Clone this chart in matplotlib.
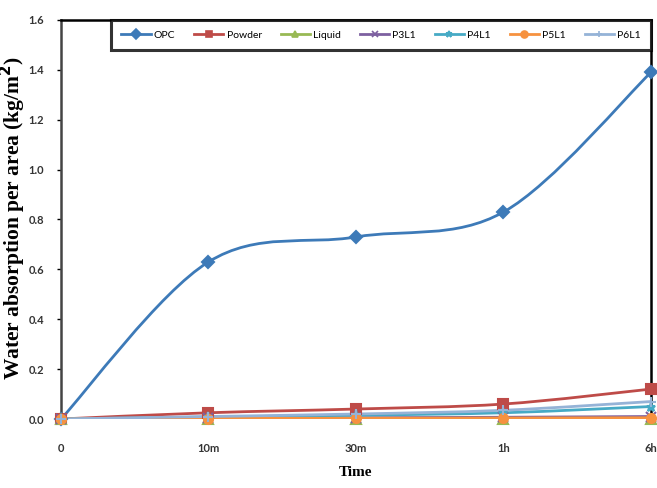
import matplotlib
matplotlib.use("Agg")
import matplotlib.pyplot as plt
from matplotlib.path import Path
from matplotlib.patches import PathPatch
from matplotlib.lines import Line2D

times = ["0", "10m", "30m", "1h", "6h"]
opc = [0.0, 0.63, 0.73, 0.83, 1.39]
powder = [0.0, 0.025, 0.04, 0.06, 0.12]
liquid = [0.0, 0.0, 0.0, 0.0, 0.0]
p3l1 = [0.0, 0.003, 0.005, 0.007, 0.01]
p4l1 = [0.0, 0.008, 0.015, 0.025, 0.05]
p5l1 = [0.0, 0.002, 0.003, 0.004, 0.005]
p6l1 = [0.0, 0.01, 0.02, 0.035, 0.07]

series = [
    ("OPC", opc, "#3D7AB8", "D"),
    ("Powder", powder, "#BE4B48", "s"),
    ("Liquid", liquid, "#98B954", "^"),
    ("P3L1", p3l1, "#7D60A0", "x"),
    ("P4L1", p4l1, "#46AAC5", "*"),
    ("P5L1", p5l1, "#F69240", "o"),
    ("P6L1", p6l1, "#95B3D7", "+"),
]


def smooth_path(xs, ys):
    # Catmull-Rom style bezier through the points (like Excel smoothing)
    pts = list(zip(xs, ys))
    n = len(pts)
    verts = [pts[0]]
    codes = [Path.MOVETO]
    for i in range(n - 1):
        p0 = pts[max(i - 1, 0)]
        p1 = pts[i]
        p2 = pts[i + 1]
        p3 = pts[min(i + 2, n - 1)]
        c1 = (p1[0] + (p2[0] - p0[0]) / 6, p1[1] + (p2[1] - p0[1]) / 6)
        c2 = (p2[0] - (p3[0] - p1[0]) / 6, p2[1] - (p3[1] - p1[1]) / 6)
        verts += [c1, c2, p2]
        codes += [Path.CURVE4] * 3
    return Path(verts, codes)


fig = plt.figure(figsize=(6.57, 4.88), dpi=100)
ax = fig.add_axes([61 / 657, 1 - 419 / 488, 590 / 657, 399 / 488])

x = list(range(len(times)))
handles = []
for name, vals, color, marker in series:
    ax.add_patch(PathPatch(smooth_path(x, vals), facecolor="none",
                           edgecolor=color, lw=2.0, zorder=2))
    ax.plot(x, vals, linestyle="none", marker=marker, color=color,
            markersize=6.5, markeredgewidth=1.5, zorder=3, clip_on=False)
    handles.append(Line2D([], [], color=color, lw=2.0, marker=marker,
                          markersize=5, markeredgewidth=1.2, label=name))

ax.set_xlim(0, 4)
ax.set_ylim(0, 1.6)
ax.set_xticks(x)
ax.set_xticklabels(times)
ax.set_yticks([i * 0.2 for i in range(9)])
ax.set_yticklabels([f"{i * 0.2:.1f}" for i in range(9)])
for lab in ax.get_xticklabels() + ax.get_yticklabels():
    lab.set_fontfamily("Lato")
    lab.set_fontweight("bold")
    lab.set_fontsize(8)
    lab.set_color("#333333")
ax.tick_params(axis="x", length=0, pad=17)
ax.tick_params(axis="y", length=3, width=1, pad=9)

for sp in ax.spines.values():
    sp.set_linewidth(1.8)
    sp.set_color("black")
ax.spines["left"].set_color("#444444")
ax.spines["bottom"].set_visible(False)

ax.set_xlabel("Time", fontfamily="Liberation Serif", fontweight="bold",
              fontsize=11, labelpad=9)
ax.set_ylabel("Water absorption per area (kg/m$^\\mathbf{2}$)",
              fontfamily="Liberation Serif", fontweight="bold", fontsize=15.5)
ax.yaxis.set_label_coords(-33 / 590, 0.505)

leg = ax.legend(handles=handles, loc="upper left",
                bbox_to_anchor=(50 / 590, 0, 540 / 590, 1.0), mode="expand",
                ncol=7, frameon=True, fancybox=False, borderaxespad=0,
                handlelength=2.8, handletextpad=0.3, borderpad=1.0,
                prop={"family": "Lato", "size": 7.5})
leg.get_frame().set_edgecolor("black")
leg.get_frame().set_linewidth(2.2)

fig.savefig("out.png", dpi=100)
